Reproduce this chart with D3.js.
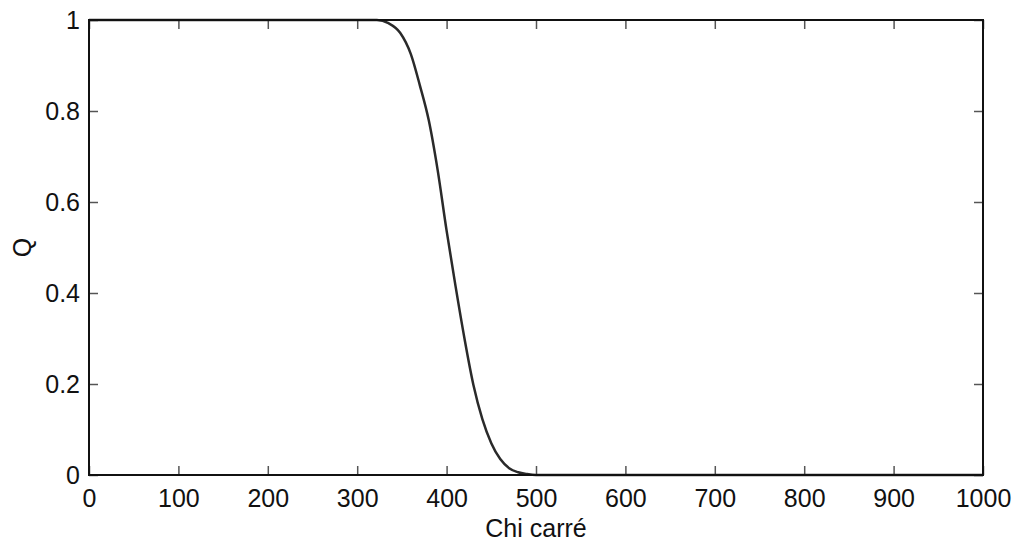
<!DOCTYPE html>
<meta charset="utf-8">
<style>
body { margin: 0; background: #fff; }
.frame { fill: none; stroke: #111; stroke-width: 2px; }
.curve { fill: none; stroke: #2a2a2a; stroke-width: 2.5px; }
.tick line { stroke: #555; stroke-width: 1.5px; }
.domain { display: none; }
.tick text { font: 25px "Liberation Sans", Arial, sans-serif; fill: #111; }
.label { font: 25px "Liberation Sans", Arial, sans-serif; fill: #111; }
</style>
<body>
<div id="plotHere"></div>
<script src="https://cdn.jsdelivr.net/npm/d3@7/dist/d3.min.js"></script>
<script>
// values (chi carré -> Q)
const chi = [0, 300, 322, 335, 348, 360, 370, 380, 390, 400, 410, 420, 430, 440, 450, 460, 470, 480, 490, 500, 1000];
const q   = [1, 1, 1, 0.993, 0.972, 0.925, 0.857, 0.78, 0.67, 0.537, 0.415, 0.30, 0.198, 0.123, 0.07, 0.035, 0.015, 0.006, 0.002, 0, 0];

const xTicks = [0, 100, 200, 300, 400, 500, 600, 700, 800, 900, 1000];
const yTicks = [0, 0.2, 0.4, 0.6, 0.8, 1];
const xlabel = "Chi carré";
const ylabel = "Q";

var margin = {top: 20, right: 35, bottom: 67, left: 89},
    width = 1018 - margin.left - margin.right,
    height = 542 - margin.top - margin.bottom;

var x = d3.scaleLinear().domain([0, 1000]).range([0, width]);
var y = d3.scaleLinear().domain([0, 1]).range([height, 0]);

var svg = d3.select("#plotHere").append("svg")
    .attr("width", 1018)
    .attr("height", 542)
  .append("g")
    .attr("transform", "translate(" + margin.left + "," + margin.top + ")");

// axes, ticks pointing inwards
svg.append("g")
    .attr("transform", "translate(0," + height + ")")
    .call(d3.axisBottom(x).tickValues(xTicks).tickSize(-9).tickPadding(14).tickFormat(d3.format("d")));
svg.append("g")
    .call(d3.axisTop(x).tickValues(xTicks).tickSize(-9).tickFormat(""));
svg.append("g")
    .call(d3.axisLeft(y).tickValues(yTicks).tickSize(-9).tickPadding(9).tickFormat(d => d === 0 || d === 1 ? d : d3.format(".1f")(d)));
svg.append("g")
    .attr("transform", "translate(" + width + ",0)")
    .call(d3.axisRight(y).tickValues(yTicks).tickSize(-9).tickFormat(""));

// data line
var line = d3.line()
    .x((d, i) => x(chi[i]))
    .y((d, i) => y(q[i]))
    .curve(d3.curveMonotoneX);

svg.append("path")
    .datum(chi)
    .attr("class", "curve")
    .attr("d", line);

svg.append("rect")
    .attr("class", "frame")
    .attr("width", width)
    .attr("height", height);

svg.append("text")
    .attr("class", "label")
    .attr("x", width / 2)
    .attr("y", height + 62)
    .attr("text-anchor", "middle")
    .text(xlabel);

svg.append("text")
    .attr("class", "label")
    .attr("transform", "rotate(-90)")
    .attr("x", -height / 2)
    .attr("y", -58)
    .attr("text-anchor", "middle")
    .text(ylabel);
</script>
</body>
